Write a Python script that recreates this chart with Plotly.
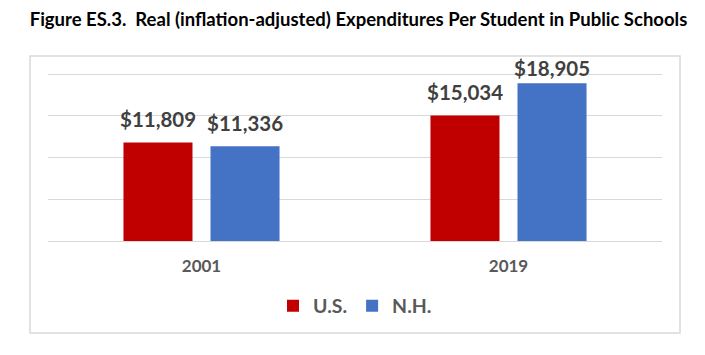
import plotly.graph_objects as go

years = ["2001", "2019"]
us_values = [11809, 15034]
nh_values = [11336, 18905]
series_names = ["U.S.", "N.H."]
title_text = "Figure ES.3.  Real (inflation-adjusted) Expenditures Per Student in Public Schools"

FONT = "Lato, 'Open Sans', sans-serif"
# page body has an 8px default margin; figure coordinates are offset accordingly
OFF = 8
W, H = 705 - OFF, 355 - OFF
L = 48 - OFF
plot_right = 662 - OFF
T = 66 - OFF
plot_bottom = 241 - OFF
R = W - plot_right
B = H - plot_bottom
pw = W - L - R
ph = H - T - B
ymax = 20000 * ph / 167.0

fig = go.Figure()
for name, vals, col in [(series_names[0], us_values, "#C00000"),
                        (series_names[1], nh_values, "#4472C4")]:
    fig.add_trace(go.Bar(
        x=years, y=vals, name=name,
        marker=dict(color=col, line=dict(width=0)),
        cliponaxis=False,
    ))

# value labels placed above each bar (group offset of half a slot);
# like the original, a label is kept inside the plot region when it would overflow
slot_px = 87
label_gap = 9
label_h = 25
label_top_limit = 6  # px below the plot area top
for vals, sign in [(us_values, -1), (nh_values, 1)]:
    for i, v in enumerate(vals):
        bar_top_px = ph * (1 - v / ymax)
        shift = label_gap
        if bar_top_px - shift - label_h < label_top_limit:
            shift = max(1, bar_top_px - label_h - label_top_limit)
        fig.add_annotation(x=i, y=v, xref="x", yref="y",
                           text="<b>$" + format(v, ",") + "</b>", showarrow=False,
                           xanchor="center", yanchor="bottom",
                           xshift=sign * slot_px / 2, yshift=shift,
                           font=dict(family=FONT, size=20.5, color="#404040"))

def px_to_paper_x(px):
    return (px - OFF - L) / pw

def px_to_paper_y(py):
    return (plot_bottom - (py - OFF)) / ph

fig.add_shape(type="rect", xref="paper", yref="paper",
              x0=px_to_paper_x(30), x1=px_to_paper_x(680),
              y0=px_to_paper_y(333), y1=px_to_paper_y(56),
              line=dict(color="#D9D9D9", width=1.5), fillcolor="rgba(0,0,0,0)", layer="below")

fig.update_layout(
    width=W, height=H,
    margin=dict(l=L, r=R, t=T, b=B, autoexpand=False),
    paper_bgcolor="white", plot_bgcolor="white",
    barmode="group", bargap=0.433, bargroupgap=0.207,
    title=dict(text="<b>" + title_text + "</b>", xref="container", yref="container",
               x=(358.5 - OFF) / W, y=1 - (20 - OFF) / H, xanchor="center", yanchor="middle",
               font=dict(family=FONT, size=18.5, color="black")),
    showlegend=True,
    legend=dict(orientation="h", xref="container", yref="container",
                x=(355 - OFF) / W, y=1 - (306 - OFF) / H, xanchor="center", yanchor="middle",
                font=dict(family=FONT, size=19.5, color="#595959", weight="bold"),
                itemwidth=30, traceorder="normal"),
    xaxis=dict(type="category", range=[-0.5, len(years) - 0.5], autorange=False,
               showline=False, ticks="", showgrid=False,
               tickfont=dict(family=FONT, size=17, color="#595959", weight="bold"),
               ticklabelstandoff=13),
    yaxis=dict(range=[0, ymax], autorange=False, tick0=0, dtick=5000, showticklabels=False,
               showgrid=True, gridcolor="#D9D9D9", gridwidth=1.3,
               zeroline=True, zerolinecolor="#D9D9D9", zerolinewidth=1.3, ticks=""),
)

fig.write_html("out.html")
